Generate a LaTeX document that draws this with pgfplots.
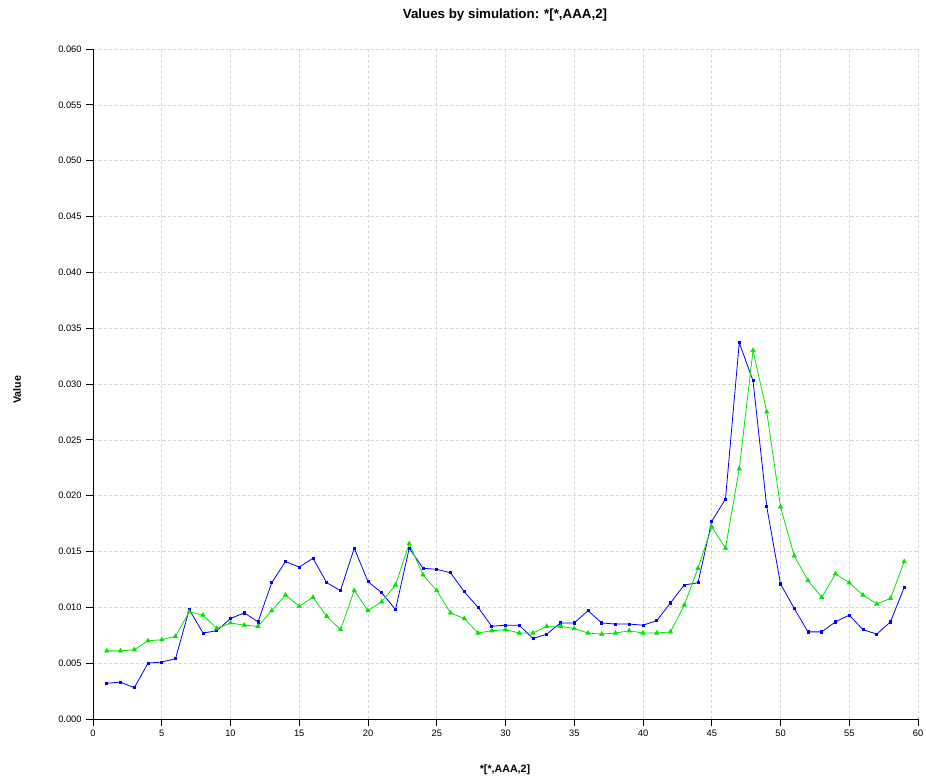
\documentclass[border=0pt]{standalone}
\usepackage{fontspec}
\setmainfont{Liberation Sans}
\usepackage{pgfplots}
\pgfplotsset{compat=1.18}

\definecolor{serblue}{RGB}{0,0,255}
\definecolor{sergreen}{RGB}{0,230,0}

\begin{document}
\begin{tikzpicture}[x=0.75pt,y=0.75pt]
\begin{axis}[
    at={(69.75pt,45.75pt)}, anchor=south west,
    scale only axis,
    width=618.75pt, height=502.5pt,
    xmin=0, xmax=60, ymin=0, ymax=0.06,
    xtick={0,5,...,60},
    ytick={0,0.005,...,0.0601},
    axis lines=left,
    axis line style={-, black, line width=0.6pt},
    tick align=outside,
    major tick length=5pt,
    tick style={black, line width=0.6pt},
    grid=major,
    major grid style={dash pattern=on 2.5pt off 1.5pt, gray!30, line width=0.4pt},
    ticklabel style={font=\fontsize{7}{8}\selectfont},
    /pgf/number format/assume math mode=true,
    yticklabel style={/pgf/number format/.cd, fixed, fixed zerofill, precision=3},
    scaled y ticks=false,
    clip=false,
]
\addplot[color=serblue, line width=0.6pt, mark=square*, mark size=0.8pt] coordinates {
 (1,0.0032) (2,0.0033) (3,0.0028) (4,0.0050) (5,0.0051) (6,0.0054)
 (7,0.0098) (8,0.0077) (9,0.0079) (10,0.0090) (11,0.0095) (12,0.0087)
 (13,0.0122) (14,0.0141) (15,0.0136) (16,0.0144) (17,0.0122) (18,0.0115)
 (19,0.0153) (20,0.0123) (21,0.0113) (22,0.0098) (23,0.0153) (24,0.0135)
 (25,0.0134) (26,0.0131) (27,0.0114) (28,0.0100) (29,0.0083) (30,0.0084)
 (31,0.0084) (32,0.0072) (33,0.0076) (34,0.0086) (35,0.0086) (36,0.0097)
 (37,0.0086) (38,0.0085) (39,0.0085) (40,0.0084) (41,0.0088) (42,0.0104)
 (43,0.0120) (44,0.0122) (45,0.0177) (46,0.0197) (47,0.0337) (48,0.0303)
 (49,0.0190) (50,0.0121) (51,0.0099) (52,0.0078) (53,0.0078) (54,0.0087)
 (55,0.0093) (56,0.0080) (57,0.0076) (58,0.0087) (59,0.0118)
};
\addplot[color=sergreen, line width=0.6pt, mark=triangle*, mark size=1.7pt] coordinates {
 (1,0.0061) (2,0.0061) (3,0.0062) (4,0.0070) (5,0.0071) (6,0.0074)
 (7,0.0096) (8,0.0093) (9,0.0081) (10,0.0086) (11,0.0084) (12,0.0083)
 (13,0.0097) (14,0.0111) (15,0.0101) (16,0.0109) (17,0.0092) (18,0.0080)
 (19,0.0115) (20,0.0097) (21,0.0105) (22,0.0120) (23,0.0157) (24,0.0129)
 (25,0.0115) (26,0.0095) (27,0.0090) (28,0.0077) (29,0.0079) (30,0.0080)
 (31,0.0077) (32,0.0077) (33,0.0083) (34,0.0083) (35,0.0081) (36,0.0077)
 (37,0.0076) (38,0.0077) (39,0.0079) (40,0.0077) (41,0.0077) (42,0.0078)
 (43,0.0102) (44,0.0135) (45,0.0172) (46,0.0153) (47,0.0224) (48,0.0330)
 (49,0.0275) (50,0.0190) (51,0.0146) (52,0.0124) (53,0.0109) (54,0.0130)
 (55,0.0122) (56,0.0111) (57,0.0103) (58,0.0108) (59,0.0141)
};
\end{axis}
% title and axis labels
\node[font=\bfseries\fontsize{10}{11}\selectfont] at (505,765) {Values by simulation: *[*,AAA,2]};
\node[font=\bfseries\fontsize{8}{9}\selectfont] at (505,10) {*[*,AAA,2]};
\node[font=\bfseries\fontsize{8}{9}\selectfont, rotate=90] at (17,390) {Value};
\pgfresetboundingbox
\useasboundingbox (0,0) rectangle (926,780);
\end{tikzpicture}
\end{document}
